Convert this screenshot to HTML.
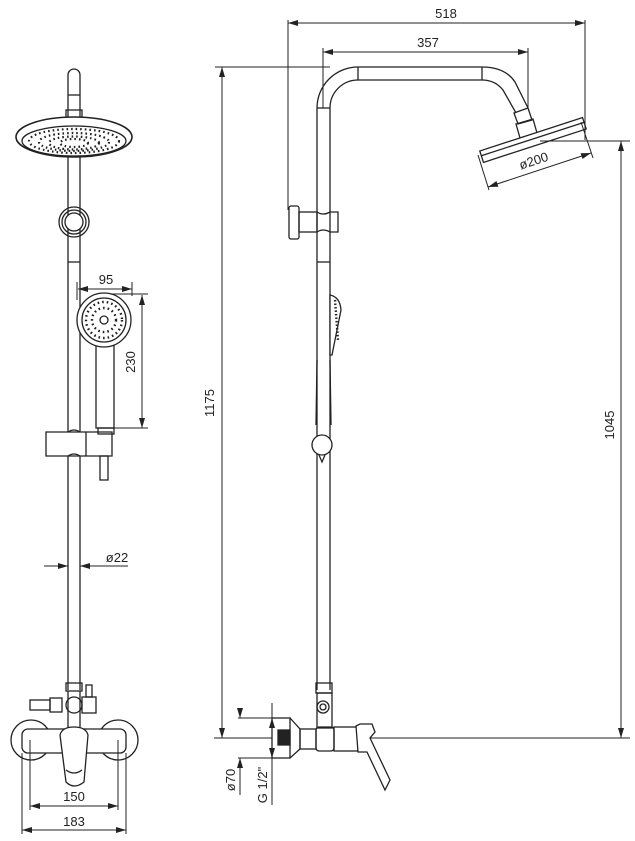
<!DOCTYPE html>
<html><head><meta charset="utf-8"><style>
html,body{margin:0;padding:0;background:#fff;}
svg{display:block;}
text{font-family:"Liberation Sans",sans-serif;font-size:13px;fill:#222;}
</style></head><body>
<svg width="635" height="841" viewBox="0 0 635 841" xmlns="http://www.w3.org/2000/svg">
<defs>
<marker id="a" viewBox="0 0 10 6" refX="10" refY="3" markerWidth="10" markerHeight="6" orient="auto-start-reverse" markerUnits="userSpaceOnUse"><path d="M0,0L10,3L0,6z" fill="#222"/></marker>
</defs>
<g fill="none" stroke="#222" stroke-width="1.3">
<!-- LEFT VIEW -->
<path d="M68,690 V75 A6,6 0 0 1 80,75 V690"/>
<line x1="68" y1="95" x2="80" y2="95"/>
<rect x="66" y="110" width="16" height="8"/>
<ellipse cx="74" cy="137" rx="58" ry="20" fill="#fff" stroke-width="1.6"/>
<ellipse cx="74" cy="141" rx="52" ry="15"/>
<g stroke-width="2.2" stroke-dasharray="1.6 3">
<ellipse cx="74" cy="141" rx="45" ry="12"/>
<ellipse cx="74" cy="142" rx="35" ry="9"/>
<ellipse cx="74" cy="143" rx="25" ry="6.5"/>
<ellipse cx="74" cy="143" rx="14" ry="4"/>
</g>
<circle cx="74" cy="222" r="15"/><circle cx="74" cy="222" r="12"/><circle cx="74" cy="222" r="9" fill="#fff"/>
<line x1="68" y1="262" x2="80" y2="262"/>
<!-- hand shower -->
<path d="M96,345 L96,428 L114,428 L114,345" fill="#fff"/>
<circle cx="104" cy="320" r="27" fill="#fff"/>
<circle cx="104" cy="320" r="22"/>
<g stroke-width="2.4" stroke-dasharray="1.6 3"><circle cx="104" cy="320" r="18"/><circle cx="104" cy="320" r="12"/></g>
<circle cx="104" cy="320" r="4"/>
<!-- slider -->
<path d="M46,432 H112 V456 H46 Z" fill="#fff"/>
<line x1="86" y1="432" x2="86" y2="456"/>
<path d="M68,432 Q74,428 80,432 M68,456 Q74,452 80,456"/>
<rect x="100" y="456" width="8" height="24"/>
<rect x="98" y="428" width="16" height="6"/>
<!-- dims left -->
<line x1="78" y1="289" x2="132" y2="289" marker-start="url(#a)" marker-end="url(#a)" stroke-width="1"/>
<line x1="77" y1="282" x2="77" y2="300" stroke-width="1"/><line x1="132" y1="282" x2="132" y2="296" stroke-width="1"/>
<line x1="142" y1="295" x2="142" y2="428" marker-start="url(#a)" marker-end="url(#a)" stroke-width="1"/>
<line x1="112" y1="294" x2="148" y2="294" stroke-width="1"/><line x1="114" y1="428" x2="148" y2="428" stroke-width="1"/>
<line x1="44" y1="566" x2="68" y2="566" marker-end="url(#a)" stroke-width="1"/>
<line x1="128" y1="566" x2="80" y2="566" marker-end="url(#a)" stroke-width="1"/>
<!-- bottom mixer left -->
<rect x="66" y="683" width="16" height="8"/>
<path d="M68,691 V730 M80,691 V730"/>
<rect x="30" y="700" width="20" height="10"/><rect x="50" y="698" width="12" height="14"/>
<circle cx="74" cy="705" r="8"/>
<rect x="82" y="697" width="14" height="16"/><rect x="86" y="685" width="6" height="12"/>
<circle cx="31" cy="740" r="20" fill="#fff"/><circle cx="118" cy="740" r="20" fill="#fff"/>
<rect x="22" y="729" width="104" height="24" rx="6" fill="#fff"/>
<path d="M60,735 Q62,727 74,727 Q86,727 88,735 L84,782 Q74,790 66,782 Z" fill="#fff"/>
<path d="M66,770 Q74,776 82,770"/>
<line x1="30" y1="740" x2="30" y2="810" stroke-width="1"/><line x1="118" y1="740" x2="118" y2="810" stroke-width="1"/>
<line x1="22" y1="753" x2="22" y2="834" stroke-width="1"/><line x1="126" y1="753" x2="126" y2="834" stroke-width="1"/>
<line x1="30" y1="806" x2="118" y2="806" marker-start="url(#a)" marker-end="url(#a)" stroke-width="1"/>
<line x1="22" y1="830" x2="126" y2="830" marker-start="url(#a)" marker-end="url(#a)" stroke-width="1"/>

<!-- RIGHT VIEW -->
<path d="M317,690 V108 A41,41 0 0 1 358,67 H482 Q505,67 515,82 L528,108"/>
<path d="M330,690 V108 A28,28 0 0 1 358,80 H482 Q495,80 503,90 L516,113"/>
<line x1="317" y1="108" x2="330" y2="108"/><line x1="358" y1="67" x2="358" y2="80"/><line x1="482" y1="67" x2="482" y2="80"/>
<line x1="317" y1="262" x2="330" y2="262"/>
<path d="M514,113 L528,108 L532,120 L518,124 Z"/>
<path d="M516,124 L533,119 L537,133 L520,138 Z"/>
<g transform="rotate(-18 533 140)">
<rect x="479" y="134" width="108" height="12" fill="#fff"/>
<line x1="479" y1="139" x2="587" y2="139"/>
</g>
<!-- wall holder -->
<rect x="289" y="206" width="10" height="33" rx="2"/>
<rect x="299" y="212" width="18" height="20"/>
<path d="M317,212 Q323,216 330,212 H338 V232 H330 Q323,228 317,232"/>
<!-- side hand shower -->
<path d="M330,295 Q340,297 341,310 L332,355 L330,355 Z" fill="#fff"/>
<path d="M335,300 L338,340" stroke-width="2.4" stroke-dasharray="1.5 2"/>
<path d="M317,360 L316,425 M330,360 L331,425"/>
<circle cx="322" cy="445" r="10" fill="#fff"/>
<path d="M319,455 L322,462 L325,455"/>
<!-- bottom right -->
<rect x="316" y="683" width="16" height="10"/>
<rect x="317" y="693" width="15" height="35"/>
<circle cx="323" cy="707" r="6"/><circle cx="323" cy="707" r="3"/>
<rect x="272" y="718" width="18" height="40"/>
<rect x="278" y="730" width="12" height="15" fill="#222"/>
<path d="M290,718 L300,729 L300,749 L290,758"/>
<rect x="300" y="729" width="16" height="20"/>
<rect x="316" y="727" width="18" height="24" rx="3"/>
<rect x="334" y="727" width="24" height="24"/>
<path d="M356,726 L360,724 L372,724 L375,732 L370,738 L390,780 L385,790 L367,752 L358,752 Z" fill="#fff"/>
<!-- dims right -->
<line x1="288" y1="20" x2="288" y2="210" stroke-width="1"/>
<line x1="585" y1="20" x2="585" y2="140" stroke-width="1"/>
<line x1="323" y1="48" x2="323" y2="108" stroke-width="1"/>
<line x1="528" y1="48" x2="528" y2="108" stroke-width="1"/>
<line x1="288" y1="23" x2="585" y2="23" marker-start="url(#a)" marker-end="url(#a)" stroke-width="1"/>
<line x1="323" y1="52" x2="528" y2="52" marker-start="url(#a)" marker-end="url(#a)" stroke-width="1"/>
<line x1="215" y1="67" x2="330" y2="67" stroke-width="1"/>
<line x1="222" y1="67" x2="222" y2="738" marker-start="url(#a)" marker-end="url(#a)" stroke-width="1"/>
<line x1="540" y1="141" x2="630" y2="141" stroke-width="1"/>
<line x1="370" y1="738" x2="630" y2="738" stroke-width="1"/>
<line x1="621" y1="141" x2="621" y2="738" marker-start="url(#a)" marker-end="url(#a)" stroke-width="1"/>
<line x1="214" y1="738" x2="272" y2="738" stroke-width="1"/>
<line x1="238" y1="718" x2="272" y2="718" stroke-width="1"/>
<line x1="238" y1="758" x2="272" y2="758" stroke-width="1"/>
<line x1="240" y1="712" x2="240" y2="718" marker-end="url(#a)" stroke-width="1"/>
<line x1="240" y1="795" x2="240" y2="758" marker-end="url(#a)" stroke-width="1"/>
<line x1="272" y1="703" x2="272" y2="805" stroke-width="1"/>
<line x1="272" y1="718" x2="272" y2="730" marker-start="url(#a)" stroke-width="1"/>
<line x1="272" y1="746" x2="272" y2="758" marker-end="url(#a)" stroke-width="1"/>
<!-- ø200 -->
<line x1="488" y1="187" x2="591" y2="153" marker-start="url(#a)" marker-end="url(#a)" stroke-width="1"/>
<line x1="478" y1="155" x2="489" y2="190" stroke-width="1"/>
<line x1="581" y1="122" x2="593" y2="158" stroke-width="1"/>
</g>
<text x="106" y="284" text-anchor="middle">95</text>
<text transform="translate(135,362) rotate(-90)" text-anchor="middle">230</text>
<text x="117" y="562" text-anchor="middle">ø22</text>
<text x="74" y="801" text-anchor="middle">150</text>
<text x="74" y="826" text-anchor="middle">183</text>
<text x="446" y="18" text-anchor="middle">518</text>
<text x="428" y="47" text-anchor="middle">357</text>
<text transform="translate(214,403) rotate(-90)" text-anchor="middle">1175</text>
<text transform="translate(614,425) rotate(-90)" text-anchor="middle">1045</text>
<text transform="translate(535,165) rotate(-18)" text-anchor="middle">ø200</text>
<text transform="translate(235,780) rotate(-90)" text-anchor="middle">ø70</text>
<text transform="translate(267,785) rotate(-90)" text-anchor="middle">G 1/2"</text>
</svg>
</body></html>
